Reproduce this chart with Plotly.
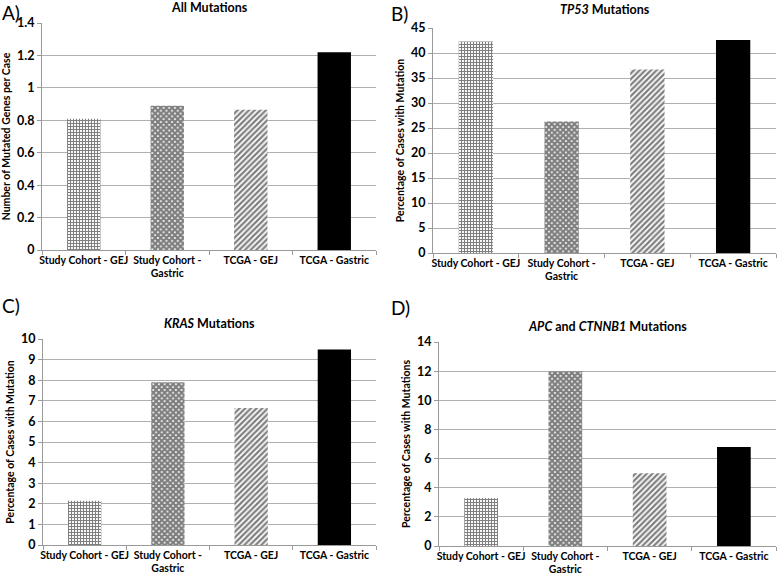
import plotly.graph_objects as go

categories = ["Study Cohort - GEJ", "Study Cohort -<br>Gastric", "TCGA - GEJ", "TCGA - Gastric"]
all_mut = [0.81, 0.89, 0.865, 1.22]
tp53 = [42.3, 26.3, 36.7, 42.6]
kras = [2.15, 7.9, 6.65, 9.5]
apc_ctnnb1 = [3.3, 12.0, 5.0, 6.8]

titles = ["All Mutations", "<i>TP53</i> Mutations", "<i>KRAS</i> Mutations",
          "<i>APC</i> and <i>CTNNB1</i> Mutations"]
ytitles = ["Number of Mutated Genes per Case", "Percentage of Cases with Mutation",
           "Percentage of Cases with Mutation", "Percentage of Cases with Mutations"]
panel_labels = ["A)", "B)", "C)", "D)"]
yranges = [1.4, 45, 10, 14]
dticks = [0.2, 5, 1, 2]

W, H = 778, 577
boxes = [(42, 376, 23, 250), (433, 776, 28, 253), (43, 376, 339, 545), (439, 776, 342, 546)]
title_y = [7, 10, 323, 326]
label_pos = [(0, 12), (389, 13), (0, 305), (389, 307)]

patterns = [
    dict(shape="+", fgcolor="#000000", bgcolor="white", size=3, solidity=0.6),
    dict(shape="x", fgcolor="#000000", bgcolor="white", size=4, solidity=0.8),
    dict(shape="/", fgcolor="#000000", bgcolor="white", size=4, solidity=0.55),
    dict(shape="", fgcolor="black", bgcolor="black"),
]

font_family = "Lato, sans-serif"
fig = go.Figure()
series = [all_mut, tp53, kras, apc_ctnnb1]
annotations = []
for i, vals in enumerate(series):
    n = "" if i == 0 else str(i + 1)
    for j, v in enumerate(vals):
        p = patterns[j]
        fig.add_trace(go.Bar(
            x=[categories[j]], y=[v], width=0.4,
            marker=dict(color=p["bgcolor"], line=dict(width=0),
                        pattern=p if p["shape"] else None),
            xaxis="x" + n, yaxis="y" + n, showlegend=False, hoverinfo="skip"))
    l, r, t, b = boxes[i]
    fig.layout["xaxis" + n] = dict(
        domain=[l / W, r / W], anchor="y" + n, type="category", automargin=False,
        categoryorder="array", categoryarray=categories,
        tickangle=0,
        showline=True, linecolor="#9a9a9a", linewidth=1,
        ticks="outside", ticklen=4, tickcolor="#9a9a9a", tickson="boundaries",
        showgrid=False, tickfont=dict(size=10.5, color="black", family=font_family, weight="bold"))
    fig.layout["yaxis" + n] = dict(
        domain=[1 - b / H, 1 - t / H], anchor="x" + n, automargin=False,
        range=[0, yranges[i] * 1.0005], dtick=dticks[i], tick0=0,
        showline=True, linecolor="#9a9a9a", linewidth=1,
        ticks="outside", ticklen=4, tickcolor="#9a9a9a",
        showgrid=True, gridcolor="#b0b0b0", gridwidth=1, zeroline=False,
        tickfont=dict(size=12.5, color="black", family=font_family, weight="bold"),
        title=dict(text=ytitles[i], standoff=4,
                   font=dict(size=10.5, color="black", family=font_family, weight="bold")))
    annotations.append(dict(
        text=titles[i], x=(l + r) / 2 / W, y=1 - title_y[i] / H,
        xref="paper", yref="paper",
        xanchor="center", yanchor="middle", showarrow=False,
        font=dict(size=12.5, color="black", family=font_family, weight="bold")))
    lx, ly = label_pos[i]
    annotations.append(dict(
        text=panel_labels[i], x=lx / W, y=1 - ly / H, xref="paper", yref="paper",
        xanchor="left", yanchor="middle", showarrow=False,
        font=dict(size=19, color="black", family=font_family)))

fig.update_layout(width=W, height=H, margin=dict(l=0, r=0, t=0, b=0),
                  paper_bgcolor="white", plot_bgcolor="white", annotations=annotations,
                  bargap=0.6, font=dict(family=font_family, color="black"))
fig.write_html("out.html", config={"displayModeBar": False},
               post_script="document.body.style.margin='0';document.body.style.padding='0';")
